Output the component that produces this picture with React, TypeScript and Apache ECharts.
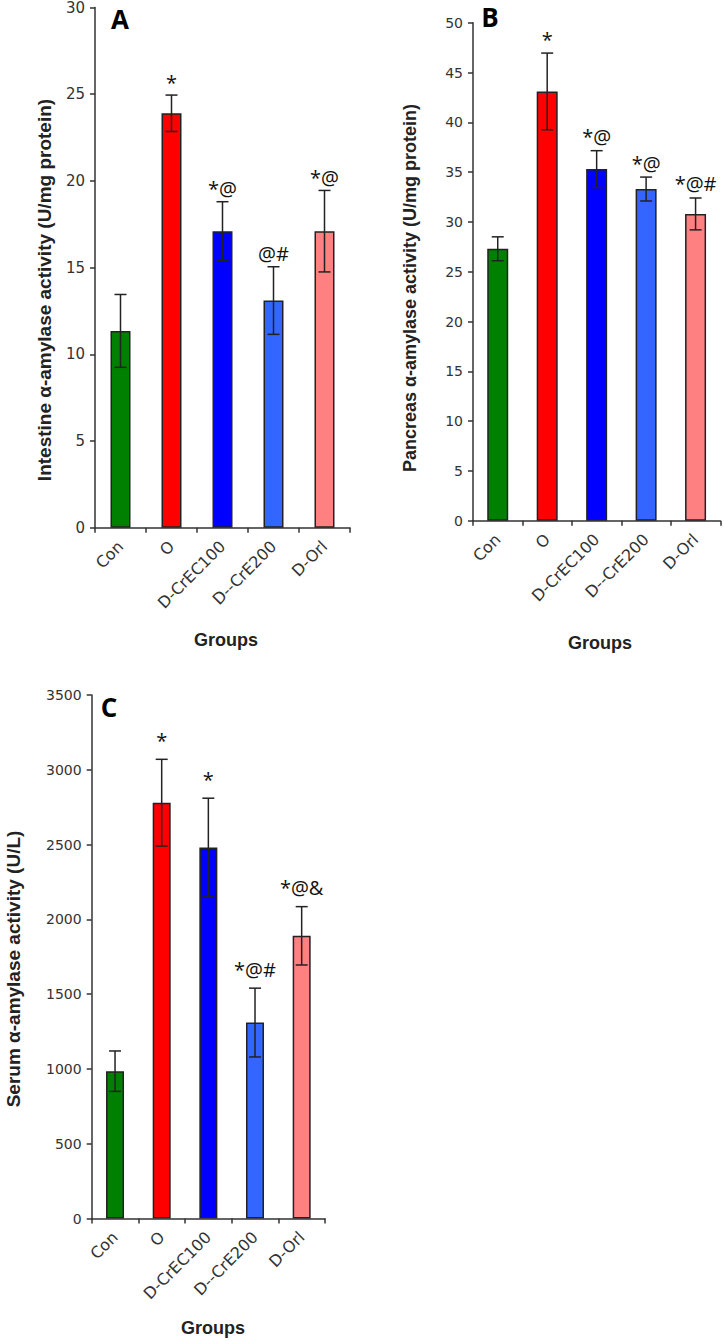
import React, { useEffect, useRef } from "react";
import * as echarts from "echarts";

const categories = ["Con", "O", "D-CrEC100", "D--CrE200", "D-Orl"];
const barColors = ["#008000", "#FF0000", "#0000FF", "#3366FF", "#FF8080"];

const intestineMean = [11.35, 23.9, 17.1, 13.1, 17.1];
const intestineErr = [2.1, 1.05, 1.7, 1.95, 2.35];
const intestineMarks = ["", "*", "*@", "@#", "*@"];

const pancreasMean = [27.3, 43.1, 35.3, 33.3, 30.8];
const pancreasErr = [1.2, 3.85, 1.85, 1.2, 1.6];
const pancreasMarks = ["", "*", "*@", "*@", "*@#"];

const serumMean = [985, 2780, 2480, 1310, 1890];
const serumErr = [135, 290, 330, 230, 195];
const serumMarks = ["", "*", "*", "*@#", "*@&"];

const yTitles = [
  "Intestine α-amylase activity (U/mg protein)",
  "Pancreas α-amylase activity (U/mg protein)",
  "Serum α-amylase activity (U/L)",
];
const xTitle = "Groups";
const panelLetters = ["A", "B", "C"];

const AXIS_COLOR = "#333";
const TICK_FONT = "DejaVu Sans";
const TITLE_FONT = "Liberation Sans";
const MARK_FONT = "Open Sans";

export default function App() {
  const ref = useRef<HTMLDivElement>(null);
  useEffect(() => {
    if (!ref.current) return;
    const chart = echarts.init(ref.current, null, { renderer: "svg" });

    const grids = [
      { left: 95, top: 7.5, width: 255, height: 520.2 },
      { left: 473, top: 22.7, width: 247.3, height: 498 },
      { left: 91.7, top: 695, width: 233.3, height: 523.5 },
    ];
    const yCfg = [
      { max: 30, interval: 5, font: 15, tfont: 19 },
      { max: 50, interval: 5, font: 14, tfont: 18 },
      { max: 3500, interval: 500, font: 14, tfont: 19 },
    ];
    const yTitlePos = [
      [44, 290],
      [410, 288],
      [13, 969],
    ];
    const xTitlePos = [
      [226, 640],
      [600, 643],
      [213, 1328],
    ];
    const barWidths = [20, 21, 18];
    const markGaps = [3, 4, 9];
    const means = [intestineMean, pancreasMean, serumMean];
    const errs = [intestineErr, pancreasErr, serumErr];
    const marks = [intestineMarks, pancreasMarks, serumMarks];

    const xAxis = grids.map((_, i) => ({
      type: "category",
      gridIndex: i,
      data: categories,
      axisLine: { show: true, lineStyle: { color: AXIS_COLOR, width: 1.5 } },
      axisTick: { show: true, length: 5, lineStyle: { color: AXIS_COLOR, width: 1.5 } },
      axisLabel: {
        rotate: 45,
        interval: 0,
        margin: 16,
        fontFamily: TICK_FONT,
        fontSize: 16,
        color: "#333",
      },
      splitLine: { show: false },
    }));

    const yAxis = grids.map((_, i) => ({
      type: "value",
      gridIndex: i,
      min: 0,
      max: yCfg[i].max,
      interval: yCfg[i].interval,
      axisLine: { show: true, lineStyle: { color: AXIS_COLOR, width: 1.5 } },
      axisTick: { show: true, length: 5, lineStyle: { color: AXIS_COLOR, width: 1.5 } },
      axisLabel: {
        margin: 10,
        fontFamily: TICK_FONT,
        fontSize: yCfg[i].font,
        color: "#333",
        formatter: (v: number) => String(v),
      },
      splitLine: { show: false },
    }));

    const series: any[] = [];
    grids.forEach((_, i) => {
      series.push({
        type: "bar",
        xAxisIndex: i,
        yAxisIndex: i,
        barWidth: barWidths[i],
        data: means[i].map((v, k) => ({
          value: v,
          itemStyle: { color: barColors[k], borderColor: "#222", borderWidth: 1.5 },
        })),
        z: 2,
      });
      series.push({
        type: "custom",
        xAxisIndex: i,
        yAxisIndex: i,
        z: 5,
        data: means[i].map((v, k) => [k, v, errs[i][k]]),
        renderItem: (params: any, api: any) => {
          const k = api.value(0);
          const m = api.value(1);
          const e = api.value(2);
          const top = api.coord([k, m + e]);
          const bot = api.coord([k, m - e]);
          const cap = 6;
          const ls = { stroke: "#222", lineWidth: 1.5 };
          const children: any[] = [
            { type: "line", shape: { x1: top[0], y1: top[1], x2: bot[0], y2: bot[1] }, style: ls },
            { type: "line", shape: { x1: top[0] - cap, y1: top[1], x2: top[0] + cap, y2: top[1] }, style: ls },
            { type: "line", shape: { x1: bot[0] - cap, y1: bot[1], x2: bot[0] + cap, y2: bot[1] }, style: ls },
          ];
          const txt = marks[i][params.dataIndex];
          if (txt) {
            children.push({
              type: "text",
              x: top[0],
              y: top[1] - markGaps[i],
              style: {
                text: txt,
                fontFamily: MARK_FONT,
                fontSize: 20,
                fill: "#111",
                align: "center",
                verticalAlign: "bottom",
              },
            });
          }
          return { type: "group", children };
        },
      });
    });

    const letterPos = [
      [120, 19],
      [490, 17],
      [109, 707],
    ];

    const graphics: any[] = [];
    panelLetters.forEach((t, i) => {
      graphics.push({
        type: "text",
        x: letterPos[i][0],
        y: letterPos[i][1],
        style: {
          text: t,
          fontFamily: MARK_FONT,
          fontWeight: "bold",
          fontSize: 26,
          fill: "#000",
          align: "center",
          verticalAlign: "middle",
        },
      });
      graphics.push({
        type: "text",
        x: yTitlePos[i][0],
        y: yTitlePos[i][1],
        rotation: Math.PI / 2,
        style: {
          text: yTitles[i],
          fontFamily: TITLE_FONT,
          fontWeight: "bold",
          fontSize: yCfg[i].tfont,
          fill: "#222",
          align: "center",
          verticalAlign: "middle",
        },
      });
      graphics.push({
        type: "text",
        x: xTitlePos[i][0],
        y: xTitlePos[i][1],
        style: {
          text: xTitle,
          fontFamily: TITLE_FONT,
          fontWeight: "bold",
          fontSize: 18,
          fill: "#222",
          align: "center",
          verticalAlign: "middle",
        },
      });
    });

    chart.setOption({
      animation: false,
      backgroundColor: "#fff",
      grid: grids,
      xAxis,
      yAxis,
      series,
      graphic: graphics,
    });
    return () => chart.dispose();
  }, []);

  return (
    <div
      ref={ref}
      style={{ position: "absolute", left: 0, top: 0, width: 724, height: 1341, background: "#fff" }}
    />
  );
}
